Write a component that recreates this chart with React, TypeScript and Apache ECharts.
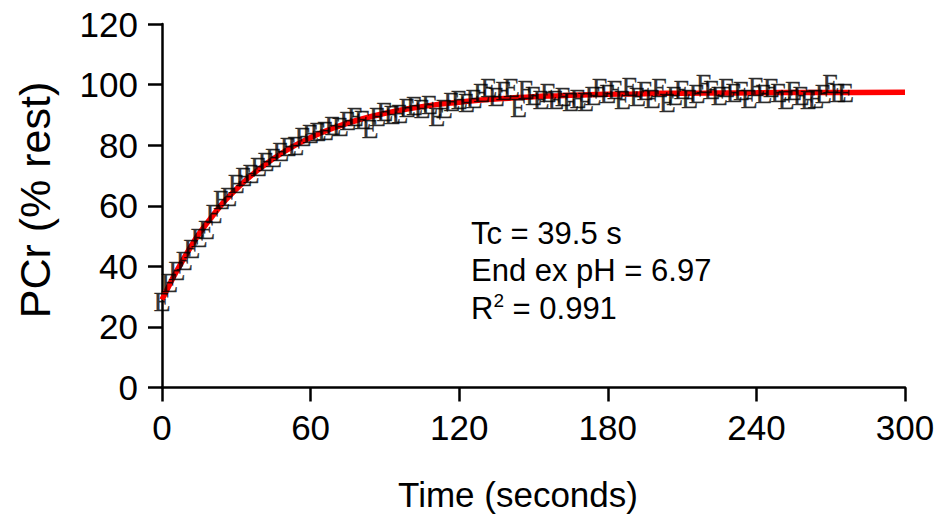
import React, { useEffect, useRef } from "react";
import * as echarts from "echarts";

const xTicks = [0, 60, 120, 180, 240, 300];
const yTicks = [0, 20, 40, 60, 80, 100, 120];

const sampleTimes = [
  0, 3, 6, 9, 12, 15, 18, 21, 24, 27, 30, 33, 36, 39, 42, 45, 48, 51, 54, 57,
  60, 63, 66, 69, 72, 75, 78, 81, 84, 87, 90, 93, 96, 99, 102, 105, 108, 111,
  114, 117, 120, 123, 126, 129, 132, 135, 138, 141, 144, 147, 150, 153, 156,
  159, 162, 165, 168, 171, 174, 177, 180, 183, 186, 189, 192, 195, 198, 201,
  204, 207, 210, 213, 216, 219, 222, 225, 228, 231, 234, 237, 240, 243, 246,
  249, 252, 255, 258, 261, 264, 267, 270, 273, 276,
];
const pcrValues = [
  28.5, 34.5, 38.5, 42, 46, 49.5, 52, 57.5, 62, 63, 67.5, 69.5, 70.5, 73,
  74.5, 76, 78, 79.5, 80, 83, 84, 84.5, 85, 86.5, 86, 88, 89.5, 88.5, 85.5,
  89.5, 91, 90, 90.5, 92.5, 93, 92, 93.5, 89.5, 92, 94.5, 95, 94, 95.5, 97.5,
  99, 96, 98, 99, 92.5, 98.5, 96.5, 95, 97.5, 95, 96, 94.5, 95.5, 94.5, 96.5,
  99, 97, 98.5, 95, 99.5, 96, 98, 95.5, 99, 94, 96.5, 98.5, 95.5, 97, 100.5,
  98.5, 96.5, 99, 97.5, 98, 95.5, 99.5, 97, 99, 97.5, 95, 98, 96.5, 95, 95.5,
  97, 100.5, 97.5, 97.5,
];

const fitTimes = [
  0, 10, 20, 30, 40, 50, 60, 70, 80, 90, 100, 110, 120, 130, 140, 150, 160,
  170, 180, 190, 200, 220, 240, 260, 280, 300,
];
const fitValues = [
  29.0, 44.3, 56.2, 65.5, 72.6, 78.2, 82.5, 85.9, 88.5, 90.5, 92.1, 93.3, 94.2,
  95.0, 95.5, 96.0, 96.3, 96.6, 96.8, 96.9, 97.1, 97.2, 97.3, 97.4, 97.4, 97.5,
];

const annotations = ["Tc = 39.5 s", "End ex pH = 6.97"];
const rSquared = "0.991";

const xTitle = "Time (seconds)";
const yTitle = "PCr (% rest)";

const SANS = "Liberation Sans, Arial, sans-serif";

export default function App() {
  const ref = useRef<HTMLDivElement>(null);

  useEffect(() => {
    if (!ref.current) return;
    const chart = echarts.init(ref.current, undefined, { renderer: "svg" });
    const axisLine = { show: true, lineStyle: { color: "#000", width: 2.5 } };
    const axisTick = {
      show: true,
      inside: false,
      length: 14,
      lineStyle: { color: "#000", width: 2.5 },
    };
    chart.setOption({
      animation: false,
      backgroundColor: "#fff",
      grid: { left: 162, right: 37, top: 24, bottom: 135.5, containLabel: false },
      xAxis: {
        type: "value",
        min: xTicks[0],
        max: xTicks[xTicks.length - 1],
        interval: 60,
        axisLine,
        axisTick,
        splitLine: { show: false },
        axisLabel: {
          margin: 22,
          fontSize: 35,
          fontFamily: SANS,
          color: "#000",
        },
      },
      yAxis: {
        type: "value",
        min: yTicks[0],
        max: yTicks[yTicks.length - 1],
        interval: 20,
        axisLine,
        axisTick,
        splitLine: { show: false },
        axisLabel: {
          margin: 24,
          fontSize: 35,
          fontFamily: SANS,
          color: "#000",
        },
      },
      series: [
        {
          type: "line",
          name: "fit",
          data: fitTimes.map((t, i) => [t, fitValues[i]]),
          smooth: true,
          showSymbol: false,
          symbol: "none",
          lineStyle: { color: "#ff0000", width: 5.5 },
          z: 2,
        },
        {
          type: "scatter",
          name: "PCr",
          data: sampleTimes.map((t, i) => [t, pcrValues[i]]),
          symbol: "circle",
          symbolSize: 1,
          itemStyle: { color: "rgba(0,0,0,0)" },
          label: {
            show: true,
            formatter: "E",
            position: "inside",
            offset: [-5, -1],
            fontFamily: "Liberation Serif",
            fontSize: 28,
            color: "#000",
            textBorderColor: "#000",
            textBorderWidth: 0.3,
          },
          labelLayout: { hideOverlap: false },
          z: 3,
        },
      ],
      graphic: [
        {
          type: "text",
          x: 35,
          y: 200,
          rotation: Math.PI / 2,
          style: {
            text: yTitle,
            fontSize: 43,
            fontFamily: SANS,
            fill: "#000",
            align: "center",
            verticalAlign: "middle",
          },
        },
        {
          type: "text",
          x: 518,
          y: 494,
          style: {
            text: xTitle,
            fontSize: 35,
            fontFamily: SANS,
            fill: "#000",
            align: "center",
            verticalAlign: "middle",
          },
        },
        ...annotations.map((txt, i) => ({
          type: "text",
          x: 471,
          y: 233 + i * 37,
          style: {
            text: txt,
            fontSize: 31,
            fontFamily: SANS,
            fill: "#000",
            align: "left",
            verticalAlign: "middle",
          },
        })),
        {
          type: "text",
          x: 471,
          y: 307,
          style: {
            text: "{b|R}{s|2}{b| = " + rSquared + "}",
            fontFamily: SANS,
            fill: "#000",
            align: "left",
            verticalAlign: "middle",
            rich: {
              b: { fontSize: 31, fontFamily: SANS, fill: "#000", verticalAlign: "bottom" },
              s: { fontSize: 19, fontFamily: SANS, fill: "#000", verticalAlign: "top", padding: [0, 0, 14, 0] },
            },
          },
        },
      ],
    });
    return () => chart.dispose();
  }, []);

  return (
    <div
      ref={ref}
      style={{ position: "fixed", left: 0, top: 0, width: 942, height: 523 }}
    />
  );
}
